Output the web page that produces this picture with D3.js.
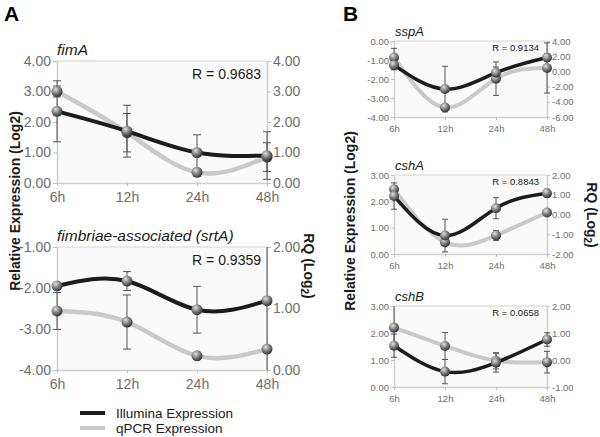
<!DOCTYPE html>
<meta charset="utf-8">
<style>
  body { margin: 0; background: #fff; }
  svg { font-family: "Liberation Sans", Arial, sans-serif; }
</style>
<script src="https://d3js.org/d3.v7.min.js"></script>
<body></body>
<script>
// time points shared by every chart
var times = ["6h", "12h", "24h", "48h"];

// fimA
var fimA_illumina = [2.35, 1.7, 1.0, 0.9];
var fimA_illuminaErr = [1.0, 0.85, 0.58, 0.78];
var fimA_qpcr = [3.0, 1.65, 0.35, 0.85];
var fimA_qpcrErr = [0.18, 0.63, 0.12, 0.47];
var fimA_leftTicks = [0, 1, 2, 3, 4];
var fimA_rightTicks = [0, 1, 2, 3, 4];

// fimbriae-associated (srtA)
var srtA_illumina = [-1.95, -1.83, -2.53, -2.31];
var srtA_illuminaErr = [0.05, 0.23, 0.57, 0.05];
var srtA_qpcr = [0.96, 0.78, 0.23, 0.34];
var srtA_qpcrErr = [0.3, 0.44, 0.05, 1.7];
var srtA_leftTicks = [-4, -3, -2, -1];
var srtA_rightTicks = [0, 1, 2];

// sspA
var sspA_illumina = [-1.27, -2.53, -1.67, -0.87];
var sspA_illuminaErr = [0.25, 1.2, 0.3, 0.2];
var sspA_qpcr = [1.83, -4.74, -0.96, 0.45];
var sspA_qpcrErr = [1.2, 0.4, 2.2, 3.3];
var sspA_leftTicks = [-4, -3, -2, -1, 0];
var sspA_rightTicks = [-6, -4, -2, 0, 2, 4];

// cshA
var cshA_illumina = [2.2, 0.7, 1.74, 2.31];
var cshA_illuminaErr = [0.5, 0.62, 0.4, 0.15];
var cshA_qpcr = [1.28, -1.4, -1.06, 0.1];
var cshA_qpcrErr = [0.15, 0.15, 0.25, 0.08];
var cshA_leftTicks = [0, 1, 2, 3];
var cshA_rightTicks = [-2, -1, 0, 1, 2];

// cshB
var cshB_illumina = [1.53, 0.57, 0.9, 1.76];
var cshB_illuminaErr = [0.43, 0.45, 0.35, 0.25];
var cshB_qpcr = [1.2, 0.52, -0.03, -0.08];
var cshB_qpcrErr = [0.8, 0.5, 0.3, 0.4];
var cshB_leftTicks = [0, 1, 2, 3];
var cshB_rightTicks = [-1, 0, 1, 2];

var fmt = function(d) { return d.toFixed(2); };

var svg = d3.select("body").append("svg")
    .attr("width", 600)
    .attr("height", 437);

var defs = svg.append("defs");
var grad = defs.append("radialGradient").attr("id", "ball")
    .attr("cx", "38%").attr("cy", "32%").attr("r", "70%");
grad.append("stop").attr("offset", "0%").attr("stop-color", "#e2e2e2");
grad.append("stop").attr("offset", "45%").attr("stop-color", "#8a8a8a");
grad.append("stop").attr("offset", "100%").attr("stop-color", "#2e2e2e");

var charts = [
  {title: "fimA", r: "R = 0.9683", ill: fimA_illumina, illErr: fimA_illuminaErr, q: fimA_qpcr, qErr: fimA_qpcrErr,
   lt: fimA_leftTicks, rt: fimA_rightTicks, x0: 57, x1: 267, y0: 61, y1: 183, big: true},
  {title: "fimbriae-associated (srtA)", r: "R = 0.9359", ill: srtA_illumina, illErr: srtA_illuminaErr, q: srtA_qpcr, qErr: srtA_qpcrErr,
   lt: srtA_leftTicks, rt: srtA_rightTicks, x0: 57, x1: 267, y0: 247, y1: 370, big: true},
  {title: "sspA", r: "R = 0.9134", ill: sspA_illumina, illErr: sspA_illuminaErr, q: sspA_qpcr, qErr: sspA_qpcrErr,
   lt: sspA_leftTicks, rt: sspA_rightTicks, x0: 394, x1: 547, y0: 41, y1: 117, big: false},
  {title: "cshA", r: "R = 0.8843", ill: cshA_illumina, illErr: cshA_illuminaErr, q: cshA_qpcr, qErr: cshA_qpcrErr,
   lt: cshA_leftTicks, rt: cshA_rightTicks, x0: 394, x1: 547, y0: 175, y1: 254, big: false},
  {title: "cshB", r: "R = 0.0658", ill: cshB_illumina, illErr: cshB_illuminaErr, q: cshB_qpcr, qErr: cshB_qpcrErr,
   lt: cshB_leftTicks, rt: cshB_rightTicks, x0: 394, x1: 547, y0: 306, y1: 387, big: false}
];

function drawChart(c) {
  var fs = c.big ? 14 : 9.5;
  var g = svg.append("g");
  var x = d3.scalePoint().domain(times).range([c.x0, c.x1]);
  var yL = d3.scaleLinear().domain(d3.extent(c.lt)).range([c.y1, c.y0]);
  var yR = d3.scaleLinear().domain(d3.extent(c.rt)).range([c.y1, c.y0]);

  g.append("rect").attr("x", c.x0).attr("y", c.y0)
    .attr("width", c.x1 - c.x0).attr("height", c.y1 - c.y0)
    .attr("fill", "#fafafa");
  g.append("line").attr("x1", c.x0).attr("x2", c.x1).attr("y1", c.y0).attr("y2", c.y0)
    .attr("stroke", "#d4d4d4").attr("stroke-width", 1.2);

  var left = g.append("g").attr("transform", "translate(" + c.x0 + ",0)")
    .call(d3.axisLeft(yL).tickValues(c.lt).tickFormat(fmt).tickSize(c.big ? 4 : 3).tickPadding(2).tickSizeOuter(0));
  var right = g.append("g").attr("transform", "translate(" + c.x1 + ",0)")
    .call(d3.axisRight(yR).tickValues(c.rt).tickFormat(fmt).tickSize(c.big ? 4 : 3).tickPadding(2).tickSizeOuter(0));
  var bottom = g.append("g").attr("transform", "translate(0," + c.y1 + ")")
    .call(d3.axisBottom(x).tickSize(3).tickPadding(c.big ? 6 : 5).tickSizeOuter(0));

  [left, right, bottom].forEach(function(a) {
    a.select(".domain").attr("stroke", "#cfcfcf").attr("stroke-width", 1.5);
    a.selectAll(".tick line").attr("stroke", "#bdbdbd");
    a.selectAll("text").attr("fill", "#6e6e6e").style("font-size", fs + "px")
      .style("font-family", "'Liberation Sans', Arial, sans-serif");
  });

  var curve = d3.curveNatural;
  var lineQ = d3.line().x(function(d, i) { return x(times[i]); }).y(function(d) { return yR(d); }).curve(curve);
  var lineI = d3.line().x(function(d, i) { return x(times[i]); }).y(function(d) { return yL(d); }).curve(curve);

  g.append("path").attr("d", lineQ(c.q)).attr("fill", "none")
    .attr("stroke", "#c9c9c9").attr("stroke-width", c.big ? 4.5 : 4).attr("stroke-linecap", "round");
  g.append("path").attr("d", lineI(c.ill)).attr("fill", "none")
    .attr("stroke", "#1c1c1c").attr("stroke-width", c.big ? 4 : 3.5).attr("stroke-linecap", "round");

  // error bars
  var cap = c.big ? 4 : 3;
  function errBars(vals, errs, y) {
    var dom = y.domain();
    vals.forEach(function(v, i) {
      var hi = Math.min(v + errs[i], dom[1]);
      var lo = Math.max(v - errs[i], dom[0]);
      var cx = x(times[i]);
      var eg = g.append("g").attr("stroke", "#555").attr("stroke-width", 1);
      eg.append("line").attr("x1", cx).attr("x2", cx).attr("y1", y(hi)).attr("y2", y(lo));
      if (hi < dom[1]) eg.append("line").attr("x1", cx - cap).attr("x2", cx + cap).attr("y1", y(hi)).attr("y2", y(hi));
      if (lo > dom[0]) eg.append("line").attr("x1", cx - cap).attr("x2", cx + cap).attr("y1", y(lo)).attr("y2", y(lo));
    });
  }
  errBars(c.ill, c.illErr, yL);
  errBars(c.q, c.qErr, yR);

  var rad = c.big ? 5.5 : 5;
  g.selectAll(".bq").data(c.q).enter().append("circle")
    .attr("cx", function(d, i) { return x(times[i]); }).attr("cy", function(d) { return yR(d); })
    .attr("r", rad).attr("fill", "url(#ball)");
  g.selectAll(".bi").data(c.ill).enter().append("circle")
    .attr("cx", function(d, i) { return x(times[i]); }).attr("cy", function(d) { return yL(d); })
    .attr("r", rad).attr("fill", "url(#ball)");

  g.append("text").attr("x", c.x0 + (c.big ? 0 : 1)).attr("y", c.y0 - (c.big ? 6 : 5))
    .style("font-size", (c.big ? 15.5 : 13) + "px").style("font-style", "italic")
    .attr("fill", "#1a1a1a").text(c.title);
  g.append("text").attr("x", c.x1 - (c.big ? 6 : 8)).attr("y", c.y0 + (c.big ? 18 : 10))
    .attr("text-anchor", "end").style("font-size", (c.big ? 14 : 9.5) + "px")
    .attr("fill", "#1a1a1a").text(c.r);
}

charts.forEach(drawChart);

// panel letters
svg.append("text").attr("x", 4).attr("y", 21).style("font-size", "21px").style("font-weight", "bold").text("A");
svg.append("text").attr("x", 343).attr("y", 21).style("font-size", "21px").style("font-weight", "bold").text("B");

// axis titles
function leftTitle(x, y) {
  svg.append("text").attr("transform", "translate(" + x + "," + y + ") rotate(-90)")
    .attr("text-anchor", "middle").style("font-size", "14px").style("font-weight", "bold")
    .attr("fill", "#1a1a1a").text("Relative Expression (Log2)");
}
function rqTitle(x, y) {
  var t = svg.append("text").attr("transform", "translate(" + x + "," + y + ") rotate(90)")
    .attr("text-anchor", "middle").style("font-size", "14px").style("font-weight", "bold")
    .attr("fill", "#1a1a1a");
  t.append("tspan").text("RQ (Log");
  t.append("tspan").attr("dy", 3).style("font-size", "10px").text("2");
  t.append("tspan").attr("dy", -3).text(")");
}
leftTitle(20, 201);
leftTitle(355, 221);
rqTitle(304, 266);
rqTitle(587, 215);

// legend
var legend = [{name: "Illumina Expression", color: "#1c1c1c", y: 413},
              {name: "qPCR Expression", color: "#c9c9c9", y: 428}];
legend.forEach(function(l) {
  svg.append("line").attr("x1", 80).attr("x2", 105).attr("y1", l.y).attr("y2", l.y)
    .attr("stroke", l.color).attr("stroke-width", 4);
  svg.append("text").attr("x", 116).attr("y", l.y + 5).style("font-size", "13.5px")
    .attr("fill", "#1a1a1a").text(l.name);
});
</script>
